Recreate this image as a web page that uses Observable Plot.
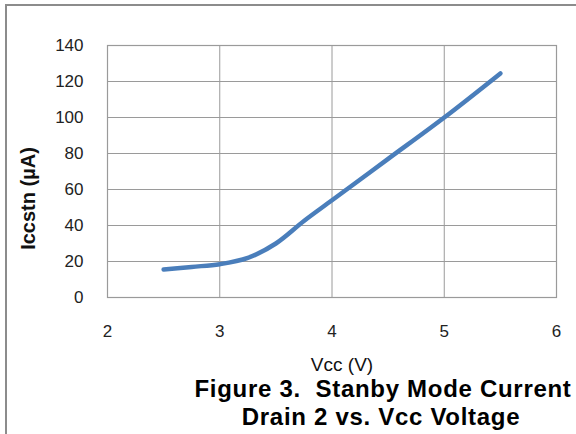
<!DOCTYPE html>
<html><head><meta charset="utf-8">
<script src="https://cdn.jsdelivr.net/npm/d3@7"></script>
<script src="https://cdn.jsdelivr.net/npm/@observablehq/plot@0.6"></script>
<style>
body{margin:0;background:#fff}
#chart{position:relative;width:576px;height:434px;overflow:hidden}
#chart text{white-space:pre}
#border{position:absolute;left:5px;top:4px;width:600px;height:500px;border-left:2px solid #8c8c8c;border-top:2px solid #8c8c8c;pointer-events:none}
</style>
</head><body><div id="chart"><div id="border"></div></div>
<script>
const vcc = [2.5, 2.75, 3.0, 3.25, 3.5, 3.75, 4.0, 4.5, 5.0, 5.5];
const icc = [15.5, 17, 18.5, 22, 30, 42.5, 54, 77, 100, 124.5];
const xTicks = [2, 3, 4, 5, 6];
const yTicks = [0, 20, 40, 60, 80, 100, 120, 140];
const xLabel = "Vcc (V)";
const yLabel = "Iccstn (µA)";
const titleLines = ["Figure 3.  Stanby Mode Current", "Drain 2 vs. Vcc Voltage"];

const data = vcc.map((x, i) => ({x, y: icc[i]}));
const font = "'Liberation Sans', Arial, sans-serif";
const gridColor = "#9a9a9a";

const plot = Plot.plot({
  width: 576, height: 434,
  marginLeft: 107, marginRight: 20, marginTop: 45, marginBottom: 137,
  style: {fontFamily: font, fontSize: "17px", color: "#222", background: "transparent"},
  x: {domain: [2, 6], ticks: xTicks, label: null},
  y: {domain: [0, 140], ticks: yTicks, label: null},
  marks: [
    Plot.gridX(xTicks, {stroke: gridColor, strokeOpacity: 1}),
    Plot.gridY(yTicks, {stroke: gridColor, strokeOpacity: 1}),
    Plot.frame({stroke: gridColor, strokeWidth: 1.2}),
    Plot.axisX(xTicks, {tickSize: 0, tickPadding: 27, fontSize: 17, label: null}),
    Plot.axisY(yTicks, {tickSize: 0, tickPadding: 24, fontSize: 17, label: null}),
    Plot.line(data, {x: "x", y: "y", curve: "catmull-rom", stroke: "#4a7ebb", strokeWidth: 4.5, strokeLinecap: "round"}),
    Plot.text([xLabel], {frameAnchor: "bottom", lineAnchor: "middle", dx: 10, dy: 67, fontSize: 19, fill: "#111"}),
    Plot.text([yLabel], {frameAnchor: "left", textAnchor: "middle", lineAnchor: "middle", rotate: -90, dx: -79, dy: 27, fontSize: 20, fontWeight: "bold", fill: "#111"}),
    Plot.text([titleLines[0]], {frameAnchor: "bottom", lineAnchor: "middle", dx: 51, dy: 92, fontSize: 24, fontWeight: "bold", fill: "#000"}),
    Plot.text([titleLines[1]], {frameAnchor: "bottom", lineAnchor: "middle", dx: 49, dy: 120, fontSize: 24, fontWeight: "bold", fill: "#000"})
  ]
});
d3.select(plot).selectAll("text")
  .filter(function() { return titleLines.includes(this.textContent); })
  .style("letter-spacing", "0.7px");
document.getElementById("chart").prepend(plot);
</script>
</body></html>
